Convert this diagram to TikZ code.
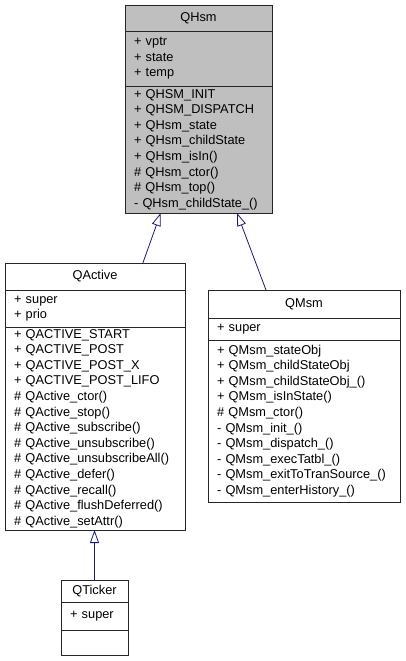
\documentclass[tikz,border=0pt]{standalone}
\usepackage{fontspec}
\setmainfont{Liberation Sans}
\usepackage{tikz}
\usetikzlibrary{positioning,arrows.meta,calc}

\definecolor{hsmgray}{RGB}{191,191,191}
\definecolor{edgeblue}{RGB}{25,25,112}

\begin{document}
\begin{tikzpicture}[x=1pt, y=-1pt,
  part/.style={draw=black!85, line width=0.8pt, outer sep=0pt, inner xsep=9pt, inner ysep=0pt,
               font=\fontsize{12.8}{15.6}\selectfont, fill=#1},
  part/.default=white,
  head/.style={part=#1, align=center},
  head/.default=white,
  mem/.style={part=#1, align=left},
  mem/.default=white,
  inh/.style={draw=edgeblue, line width=0.8pt,
              -{Triangle[open, length=13pt, width=9pt, fill=white]}},
  node distance=0pt]
\useasboundingbox (0,0) rectangle (405,661);
% base class
\node[head=hsmgray, anchor=north west, minimum width=147pt, minimum height=26pt] (qhsm) at (125,5) {QHsm};
\node[mem=hsmgray, below=of qhsm, text width=129pt, minimum height=55pt] (hsmattr)
  {+ vptr\\+ state\\+ temp};
\node[mem=hsmgray, below=of hsmattr, text width=129pt, minimum height=127pt] (hsmops)
  {+ QHSM\_INIT\\+ QHSM\_DISPATCH\\+ QHsm\_state\\+ QHsm\_childState\\+ QHsm\_isIn()\\
   \# QHsm\_ctor()\\\# QHsm\_top()\\- QHsm\_childState\_()};
% active object
\node[head, anchor=north west, minimum width=180pt, minimum height=27pt] (qactive) at (5,263) {QActive};
\node[mem, below=of qactive, text width=162pt, minimum height=37pt] (actattr)
  {+ super\\+ prio};
\node[mem, below=of actattr, text width=162pt, minimum height=203pt] (actops)
  {+ QACTIVE\_START\\+ QACTIVE\_POST\\+ QACTIVE\_POST\_X\\+ QACTIVE\_POST\_LIFO\\
   \# QActive\_ctor()\\\# QActive\_stop()\\\# QActive\_subscribe()\\\# QActive\_unsubscribe()\\
   \# QActive\_unsubscribeAll()\\\# QActive\_defer()\\\# QActive\_recall()\\
   \# QActive\_flushDeferred()\\\# QActive\_setAttr()};
% msm
\node[head, anchor=north west, minimum width=192pt, minimum height=28pt] (qmsm) at (208,290) {QMsm};
\node[mem, below=of qmsm, text width=174pt, minimum height=22pt] (msmattr)
  {+ super};
\node[mem, below=of msmattr, text width=174pt, minimum height=162pt] (msmops)
  {+ QMsm\_stateObj\\+ QMsm\_childStateObj\\+ QMsm\_childStateObj\_()\\+ QMsm\_isInState()\\
   \# QMsm\_ctor()\\- QMsm\_init\_()\\- QMsm\_dispatch\_()\\- QMsm\_execTatbl\_()\\
   - QMsm\_exitToTranSource\_()\\- QMsm\_enterHistory\_()};
% ticker
\node[head, anchor=north west, minimum width=67pt, minimum height=22pt] (qticker) at (61,580) {QTicker};
\node[mem, below=of qticker, text width=49pt, minimum height=28pt] (tickattr) {+ super};
\node[mem, below=of tickattr, text width=49pt, minimum height=25pt] (tickops) {};
% inheritance
\draw[inh] ($(qactive.north west)!.766!(qactive.north east)$) -- ($(hsmops.south west)!.243!(hsmops.south east)$);
\draw[inh] ($(qmsm.north west)!.302!(qmsm.north east)$) -- ($(hsmops.south west)!.762!(hsmops.south east)$);
\draw[inh] (qticker.north) -- (qticker.north |- actops.south);
\end{tikzpicture}
\end{document}
